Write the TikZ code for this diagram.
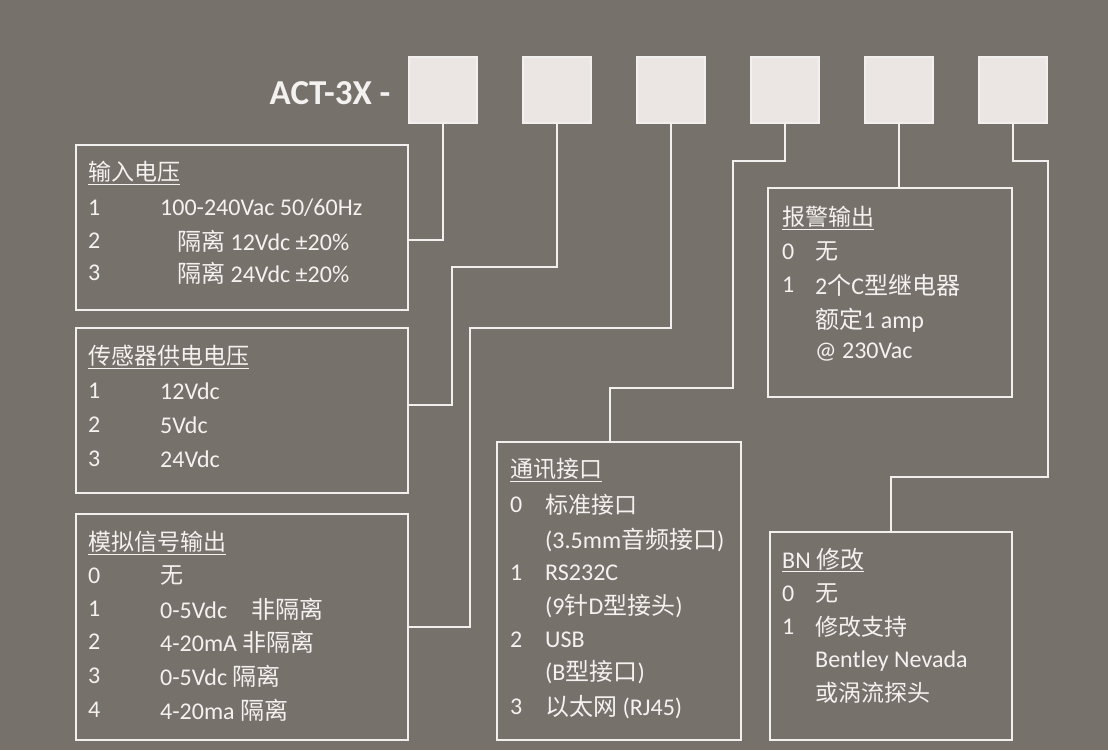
\documentclass[tikz,border=0pt]{standalone}
\usepackage{fontspec}
\setmainfont{Carlito}
\newfontfamily\cjk{Noto Sans CJK SC}
\newcommand{\cj}[1]{{\cjk #1}}
\begin{document}
\begin{tikzpicture}[x=1pt,y=-1pt,
  wire/.style={draw=linec,line width=2pt},
  sq/.style={draw=linec,fill=sqfill,line width=2pt,minimum width=68pt,minimum height=66pt,inner sep=0pt},
  box/.style={draw=linec,line width=2pt,inner sep=0pt},
  tx/.style={anchor=west,text=txc,inner sep=0pt,font=\fontsize{24}{28}\selectfont},
  tc/.style={anchor=west,text=txc,inner sep=0pt,font=\fontsize{23}{28}\cjk}]
\definecolor{bgc}{HTML}{77716C}
\definecolor{linec}{HTML}{F2F0EE}
\definecolor{sqfill}{HTML}{EBE6E3}
\definecolor{txc}{HTML}{F4F2F0}
\fill[bgc] (0,0) rectangle (1108,750);
\useasboundingbox (0,0) rectangle (1108,750);
\node[anchor=east,text=txc,font=\fontsize{35}{40}\selectfont\bfseries] (title) at (394,93) {ACT-3X -};
\foreach \i/\x in {1/443,2/557,3/671,4/785,5/899,6/1013}
  \node[sq] (s\i) at (\x,90) {};
% boxes
\node[box,minimum width=332pt,minimum height=165pt] (b1) at (242,227.5) {};
\node[box,minimum width=332pt,minimum height=165pt] (b2) at (242,410.5) {};
\node[box,minimum width=332pt,minimum height=226pt] (b3) at (242,627) {};
\node[box,minimum width=244pt,minimum height=209pt] (b4) at (890,292.5) {};
\node[box,minimum width=244pt,minimum height=298pt] (b5) at (619,591) {};
\node[box,minimum width=242pt,minimum height=208pt] (b6) at (891,636) {};
% connectors
\draw[wire] (s1.south) |- (b1.east |- 0,240);
\draw[wire] (s2.south) |- (452,267) |- (b2.east |- 0,405);
\draw[wire] (s3.south) |- (470,328) |- (b3.east |- 0,627);
\draw[wire] (s4.south) |- (733,161) |- (610,388) -- (b5.north -| 610,0);
\draw[wire] (s5.south) -- (s5.south |- b4.north);
\draw[wire] (s6.south) |- (1048,161) |- (891,477) -- (b6.north);
% box1
\node[tc] at (88,173) {\underline{输入电压}};
\node[tx] at (88,208) {1}; \node[tx] at (160,208) {100-240Vac 50/60Hz};
\node[tx] at (88,241) {2}; \node[tx] at (177,241) {\cj{隔离} 12Vdc ±20\%};
\node[tx] at (88,273) {3}; \node[tx] at (177,273) {\cj{隔离} 24Vdc ±20\%};
% box2
\node[tc] at (88,357) {\underline{传感器供电电压}};
\node[tx] at (88,391) {1}; \node[tx] at (160,391) {12Vdc};
\node[tx] at (88,425) {2}; \node[tx] at (160,425) {5Vdc};
\node[tx] at (88,459) {3}; \node[tx] at (160,459) {24Vdc};
% box3
\node[tc] at (88,543) {\underline{模拟信号输出}};
\node[tx] at (88,576) {0}; \node[tc] at (160,576) {无};
\node[tx] at (88,609) {1}; \node[tx] at (160,609) {0-5Vdc\quad\cj{非隔离}};
\node[tx] at (88,642) {2}; \node[tx] at (160,642) {4-20mA \cj{非隔离}};
\node[tx] at (88,676) {3}; \node[tx] at (160,676) {0-5Vdc \cj{隔离}};
\node[tx] at (88,710) {4}; \node[tx] at (160,710) {4-20ma \cj{隔离}};
% alarm
\node[tc] at (782,218) {\underline{报警输出}};
\node[tx] at (782,252) {0}; \node[tc] at (815,252) {无};
\node[tx] at (782,285) {1}; \node[tx] at (815,285) {2\cj{个}C\cj{型继电器}};
\node[tx] at (815,320) {\cj{额定}1 amp};
\node[tx] at (815,352) {@ 230Vac};
% comm
\node[tc] at (510,470) {\underline{通讯接口}};
\node[tx] at (510,505) {0}; \node[tc] at (545,505) {标准接口};
\node[tx] at (545,540) {(3.5mm\cj{音频接口})};
\node[tx] at (510,573) {1}; \node[tx] at (545,573) {RS232C};
\node[tx] at (545,606) {(9\cj{针}D\cj{型接头})};
\node[tx] at (510,640) {2}; \node[tx] at (545,640) {USB};
\node[tx] at (545,672) {(B\cj{型接口})};
\node[tx] at (510,707) {3}; \node[tx] at (545,707) {\cj{以太网} (RJ45)};
% BN
\node[tx] at (782,560) {\underline{BN \cj{修改}}};
\node[tx] at (782,594) {0}; \node[tc] at (815,594) {无};
\node[tx] at (782,627) {1}; \node[tc] at (815,627) {修改支持};
\node[tx] at (815,661) {Bentley Nevada};
\node[tc] at (815,693) {或涡流探头};
\end{tikzpicture}
\end{document}
